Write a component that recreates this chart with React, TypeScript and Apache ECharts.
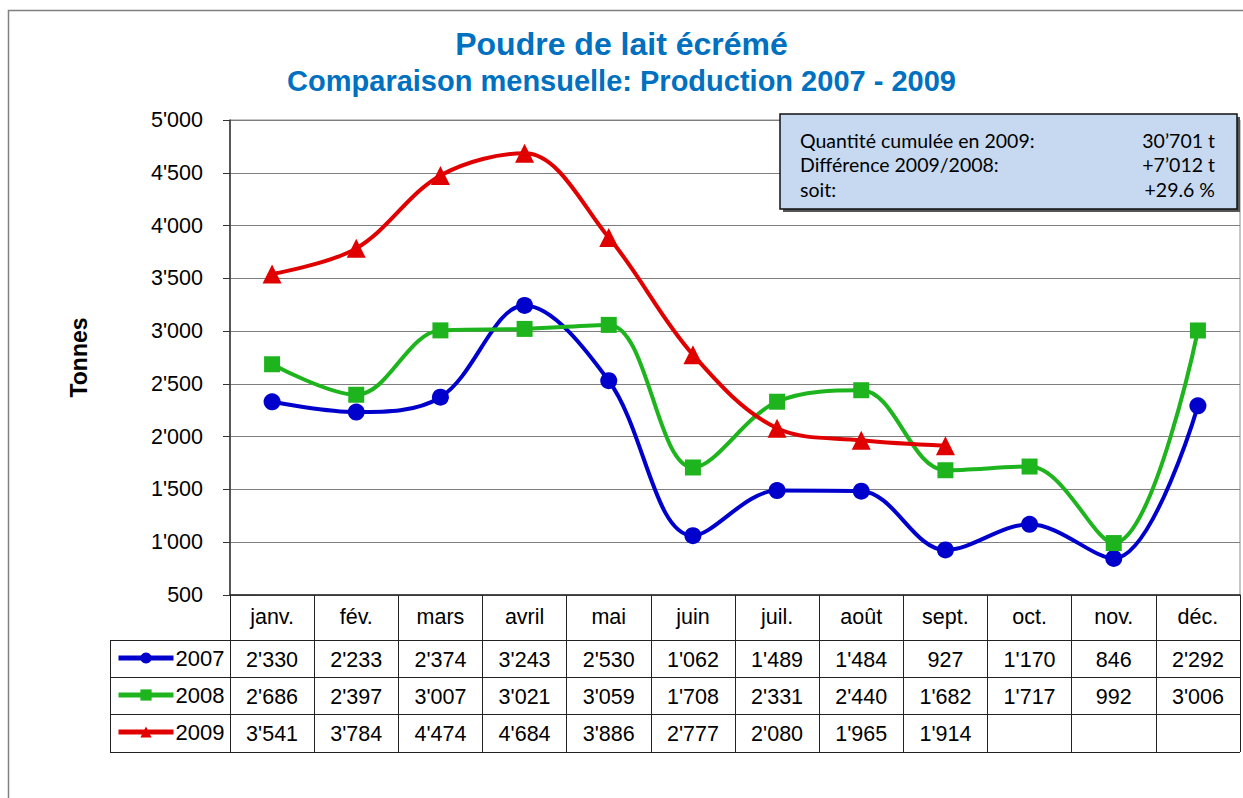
import React, { useEffect, useRef } from "react";
import * as echarts from "echarts";

const MONTHS = ["janv.", "fév.", "mars", "avril", "mai", "juin", "juil.", "août", "sept.", "oct.", "nov.", "déc."];
const YEARS = ["2007", "2008", "2009"];
const S2007 = [2330, 2233, 2374, 3243, 2530, 1062, 1489, 1484, 927, 1170, 846, 2292];
const S2008 = [2686, 2397, 3007, 3021, 3059, 1708, 2331, 2440, 1682, 1717, 992, 3006];
const S2009: (number | null)[] = [3541, 3784, 4474, 4684, 3886, 2777, 2080, 1965, 1914, null, null, null];
const SERIES = [S2007, S2008, S2009];
const COLORS = ["#0000CC", "#1DB41D", "#E00000"];
const SYMBOLS = ["circle", "rect", "triangle"];
const SYMBOL_SIZES = [17, 16, 19];
const Y_MIN = 500;
const Y_MAX = 5000;
const Y_STEP = 500;
const TITLE = "Poudre de lait écrémé";
const SUBTITLE = "Comparaison mensuelle: Production 2007 - 2009";
const Y_NAME = "Tonnes";
const INFO_LABELS = ["Quantité cumulée en 2009:", "Différence 2009/2008:", "soit:"];
const INFO_VALUES = ["30’701 t", "+7’012 t", "+29.6 %"];

const W = 1243;
const H = 798;
const GL = 230;
const GR = 1240;
const GT = 120;
const GB = 595;
const ROWS = [595, 640, 677, 714, 752];
const LEG_L = 110;

const fmt = (v: number | null) =>
  v == null ? "" : String(v).replace(/\B(?=(\d{3})+(?!\d))/g, "'");

export default function App() {
  const ref = useRef<HTMLDivElement>(null);
  useEffect(() => {
    if (!ref.current) return;
    const chart = echarts.init(ref.current, null, { renderer: "svg" });
    const font = "'Liberation Sans', Arial, sans-serif";
    const boxFont = "Lato, 'Open Sans', sans-serif";
    const option: any = {
      animation: false,
      textStyle: { fontFamily: font },
      grid: {
        left: GL,
        right: W - GR,
        top: GT,
        bottom: H - GB,
        show: true,
        borderColor: "#8c8c8c",
        borderWidth: 1,
      },
      title: [
        {
          text: TITLE,
          left: "center",
          top: 23,
          textStyle: { fontFamily: font, fontSize: 32, fontWeight: "bold", color: "#0070C0" },
        },
        {
          text: SUBTITLE,
          left: "center",
          top: 61,
          textStyle: { fontFamily: font, fontSize: 29, fontWeight: "bold", color: "#0070C0" },
        },
      ],
      legend: {
        orient: "vertical",
        left: LEG_L + 6,
        top: 647,
        itemWidth: 55,
        itemHeight: 14,
        itemGap: 15,
        padding: 0,
        lineStyle: { width: 5 },
        textStyle: { fontFamily: font, fontSize: 22, color: "#000", padding: [0, 0, 0, -3] },
        data: YEARS,
      },
      xAxis: {
        type: "category",
        data: MONTHS,
        boundaryGap: true,
        axisLine: { show: true, lineStyle: { color: "#222", width: 1.5 } },
        axisTick: {
          show: true,
          interval: 0,
          length: ROWS[4] - ROWS[0],
          lineStyle: { color: "#222", width: 1 },
        },
        axisLabel: {
          interval: 0,
          margin: 11,
          fontSize: 21.5,
          color: "#000",
          fontFamily: font,
        },
        splitLine: { show: false },
      },
      yAxis: {
        type: "value",
        min: Y_MIN,
        max: Y_MAX,
        interval: Y_STEP,
        name: Y_NAME,
        nameLocation: "middle",
        nameRotate: 90,
        nameGap: 140,
        nameTextStyle: { fontFamily: font, fontSize: 23, fontWeight: "bold", color: "#000" },
        axisLine: { show: true, lineStyle: { color: "#333", width: 1.5 } },
        axisTick: { show: true, length: 7, lineStyle: { color: "#333" } },
        axisLabel: {
          fontSize: 21.5,
          color: "#000",
          margin: 27,
          fontFamily: font,
          formatter: (v: number) => fmt(v),
        },
        splitLine: { show: true, lineStyle: { color: "#7f7f7f", width: 1 } },
      },
      series: SERIES.map((d, i) => ({
        name: YEARS[i],
        type: "line",
        data: d,
        smooth: 0.35,
        symbol: SYMBOLS[i],
        symbolSize: SYMBOL_SIZES[i],
        showAllSymbol: true,
        connectNulls: false,
        lineStyle: { color: COLORS[i], width: 4 },
        itemStyle: { color: COLORS[i] },
        z: 3 + i,
      })),
    };
    chart.setOption(option);

    const graphics: any[] = [];
    graphics.push({
      type: "rect",
      shape: { x: 8.5, y: 10.5, width: 1260, height: 800 },
      style: { fill: "none", stroke: "#808080", lineWidth: 1.5 },
      silent: true,
    });
    ROWS.slice(1).forEach((y) => {
      graphics.push({
        type: "line",
        shape: { x1: LEG_L, y1: y + 0.5, x2: GR, y2: y + 0.5 },
        style: { stroke: "#222", lineWidth: 1 },
        silent: true,
      });
    });
    graphics.push({
      type: "line",
      shape: { x1: LEG_L + 0.5, y1: ROWS[1], x2: LEG_L + 0.5, y2: ROWS[4] },
      style: { stroke: "#222", lineWidth: 1 },
      silent: true,
    });
    SERIES.forEach((d, si) => {
      const yc = (ROWS[si + 1] + ROWS[si + 2]) / 2 + 1;
      d.forEach((v, i) => {
        const px = chart.convertToPixel({ xAxisIndex: 0 }, i) as number;
        graphics.push({
          type: "text",
          x: px,
          y: yc,
          silent: true,
          style: {
            text: fmt(v),
            fontFamily: font,
            fontSize: 21.5,
            fill: "#000",
            textAlign: "center",
            textVerticalAlign: "middle",
          },
        });
      });
    });
    const bx = 780, by = 114, bw = 457, bh = 95;
    graphics.push({
      type: "rect",
      shape: { x: bx + 3, y: by + 3, width: bw, height: bh },
      style: { fill: "#555" },
      z: 10,
      silent: true,
    });
    graphics.push({
      type: "rect",
      shape: { x: bx, y: by, width: bw, height: bh },
      style: { fill: "#C6D9F1", stroke: "#111", lineWidth: 1.5 },
      z: 11,
      silent: true,
    });
    INFO_LABELS.forEach((t, i) => {
      const y = by + 26 + i * 24.5;
      graphics.push({
        type: "text",
        x: bx + 20,
        y,
        z: 12,
        silent: true,
        style: { text: t, fontFamily: boxFont, fontSize: 19.5, fill: "#000", textVerticalAlign: "middle" },
      });
      graphics.push({
        type: "text",
        x: bx + bw - 22,
        y,
        z: 12,
        silent: true,
        style: {
          text: INFO_VALUES[i],
          fontFamily: boxFont,
          fontSize: 19.5,
          fill: "#000",
          textAlign: "right",
          textVerticalAlign: "middle",
        },
      });
    });
    chart.setOption({ graphic: graphics });

    return () => chart.dispose();
  }, []);
  return (
    <div
      ref={ref}
      style={{ position: "fixed", left: 0, top: 0, width: W, height: H, background: "#fff" }}
    />
  );
}
